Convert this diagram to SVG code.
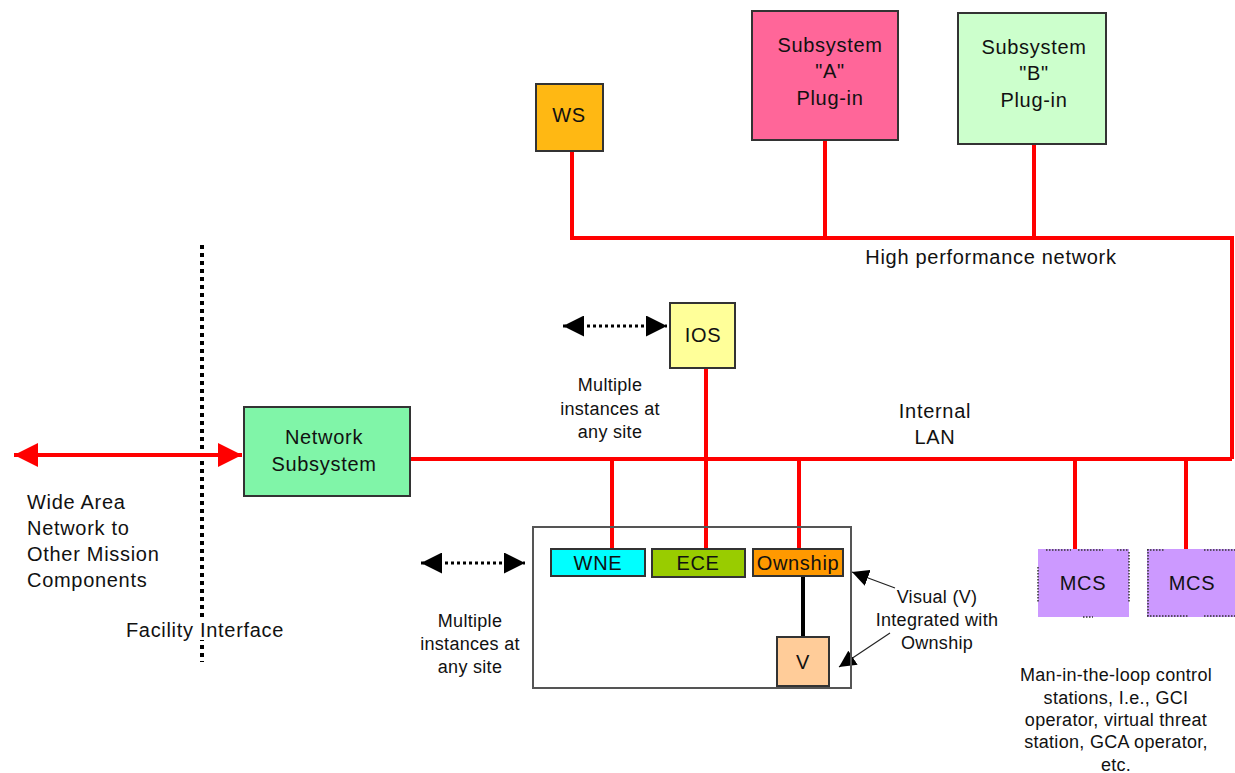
<svg xmlns="http://www.w3.org/2000/svg" width="1235" height="773" viewBox="0 0 1235 773">
  <style>
    text { font-family: "Liberation Sans", Arial, sans-serif; font-size: 20px; letter-spacing: 0.7px; fill: #111; text-anchor: middle; }
    text.small { font-size: 18px; letter-spacing: 0.3px; }
    text.left { text-anchor: start; }
    .box { stroke: #333; stroke-width: 2; }
    .net { stroke: #f00; stroke-width: 4; fill: none; }
    .dots { stroke: #000; stroke-width: 3; stroke-dasharray: 3 3; fill: none; }
    .mcsedge { stroke: #333; stroke-width: 1.5; stroke-dasharray: 1.5 1.5; fill: none; }
    .thin { stroke: #222; stroke-width: 1.2; fill: none; }
  </style>
  <defs>
    <marker id="redHead" viewBox="0 0 10 10" refX="10" refY="5" markerWidth="6" markerHeight="6" markerUnits="strokeWidth" orient="auto-start-reverse">
      <path d="M0,0 L10,5 L0,10 Z" fill="#f00"/>
    </marker>
    <marker id="blackHead" viewBox="0 0 10 10" refX="10" refY="5" markerWidth="7" markerHeight="7" markerUnits="strokeWidth" orient="auto-start-reverse">
      <path d="M0,0 L10,5 L0,10 Z" fill="#000"/>
    </marker>
    <marker id="thinHead" viewBox="0 0 10 10" refX="10" refY="5" markerWidth="14" markerHeight="14" markerUnits="strokeWidth" orient="auto">
      <path d="M0,0 L10,5 L0,10 Z" fill="#000"/>
    </marker>
  </defs>

  <rect width="1235" height="773" fill="#fff"/>

  <!-- facility boundary -->
  <line x1="202" y1="245" x2="202" y2="662" stroke="#000" stroke-width="4" stroke-dasharray="4 4"/>

  <g id="connectors">
    <!-- high performance network -->
    <polyline class="net" points="572,151 572,238 1232,238 1232,459"/>
    <line class="net" x1="825" y1="140" x2="825" y2="238"/>
    <line class="net" x1="1034" y1="144" x2="1034" y2="238"/>
    <!-- internal LAN -->
    <line class="net" x1="410" y1="459" x2="1232" y2="459"/>
    <line class="net" x1="706" y1="368" x2="706" y2="549"/>
    <line class="net" x1="612" y1="459" x2="612" y2="549"/>
    <line class="net" x1="799" y1="459" x2="799" y2="549"/>
    <line class="net" x1="1075" y1="459" x2="1075" y2="549"/>
    <line class="net" x1="1186" y1="459" x2="1186" y2="549"/>
    <!-- wide area link -->
    <line class="net" x1="14" y1="455" x2="242" y2="455" marker-start="url(#redHead)" marker-end="url(#redHead)"/>
    <!-- ownship to visual -->
    <line x1="803" y1="576" x2="803" y2="637" stroke="#000" stroke-width="4"/>
    <!-- multiple-instance arrows -->
    <line class="dots" x1="563" y1="326" x2="667" y2="326" marker-start="url(#blackHead)" marker-end="url(#blackHead)"/>
    <line class="dots" x1="421" y1="563" x2="525" y2="563" marker-start="url(#blackHead)" marker-end="url(#blackHead)"/>
    <!-- visual callouts -->
    <line class="thin" x1="895" y1="588" x2="852" y2="572" marker-end="url(#thinHead)"/>
    <line class="thin" x1="890" y1="633" x2="839" y2="667" marker-end="url(#thinHead)"/>
  </g>

  <g id="ws">
    <rect class="box" x="536" y="84" width="67" height="67" fill="#ffb813"/>
    <text x="569" y="122">WS</text>
  </g>

  <g id="subsystem-a">
    <rect class="box" x="752" y="11" width="146" height="129" fill="#ff6699"/>
    <text x="830" y="52">Subsystem</text>
    <text x="830" y="78">"A"</text>
    <text x="830" y="105">Plug-in</text>
  </g>

  <g id="subsystem-b">
    <rect class="box" x="958" y="13" width="148" height="131" fill="#ccffcc"/>
    <text x="1034" y="54">Subsystem</text>
    <text x="1034" y="80">"B"</text>
    <text x="1034" y="107">Plug-in</text>
  </g>

  <g id="ios">
    <rect class="box" x="670" y="303" width="65" height="65" fill="#ffff99"/>
    <text x="703" y="342">IOS</text>
  </g>

  <g id="network-subsystem">
    <rect class="box" x="244" y="407" width="166" height="89" fill="#80f5a8"/>
    <text x="324" y="444">Network</text>
    <text x="324" y="471">Subsystem</text>
  </g>

  <g id="site-group">
    <rect x="533" y="527" width="318" height="161" fill="none" stroke="#555" stroke-width="2"/>
  </g>

  <g id="wne">
    <rect class="box" x="551" y="549" width="94" height="27" fill="#00ffff"/>
    <text x="598" y="570">WNE</text>
  </g>

  <g id="ece">
    <rect class="box" x="652" y="549" width="93" height="28" fill="#99cc00"/>
    <text x="698" y="570">ECE</text>
  </g>

  <g id="ownship">
    <rect class="box" x="753" y="549" width="90" height="27" fill="#ff9900"/>
    <text x="798" y="570">Ownship</text>
  </g>

  <g id="visual">
    <rect class="box" x="777" y="637" width="52" height="49" fill="#ffcc99"/>
    <text x="803" y="669">V</text>
  </g>

  <g id="mcs-1">
    <rect x="1038" y="549" width="91" height="68" fill="#cc99ff"/>
    <path class="mcsedge" d="M1046,550 H1071 M1078,550 H1103 M1117,550 H1128 M1129,552 V602 M1038,567 V602 M1083,617 H1093"/>
    <text x="1083" y="590">MCS</text>
  </g>

  <g id="mcs-2">
    <rect x="1147" y="549" width="88" height="68" fill="#cc99ff"/>
    <path class="mcsedge" d="M1147,550 H1165 M1204,550 H1235 M1148,549 V617 M1147,616 H1188 M1204,616 H1235"/>
    <text x="1192" y="590">MCS</text>
  </g>

  <g id="labels">
    <text x="991" y="264">High performance network</text>
    <text x="935" y="418">Internal</text>
    <text x="935" y="444">LAN</text>
    <text class="small" x="610" y="391">Multiple</text>
    <text class="small" x="610" y="415">instances at</text>
    <text class="small" x="610" y="438">any site</text>
    <text class="small" x="470" y="627">Multiple</text>
    <text class="small" x="470" y="650">instances at</text>
    <text class="small" x="470" y="673">any site</text>
    <text class="left" x="27" y="509">Wide Area</text>
    <text class="left" x="27" y="535">Network to</text>
    <text class="left" x="27" y="561">Other Mission</text>
    <text class="left" x="27" y="587">Components</text>
    <rect x="126" y="618" width="158" height="22" fill="#fff"/>
    <text x="205" y="637">Facility Interface</text>
    <text class="small" x="937" y="603">Visual (V)</text>
    <text class="small" x="937" y="626">Integrated with</text>
    <text class="small" x="937" y="649">Ownship</text>
    <text class="small" x="1116" y="681">Man-in-the-loop control</text>
    <text class="small" x="1116" y="704">stations, I.e., GCI</text>
    <text class="small" x="1116" y="726">operator, virtual threat</text>
    <text class="small" x="1116" y="748">station, GCA operator,</text>
    <text class="small" x="1116" y="771">etc.</text>
  </g>
</svg>
